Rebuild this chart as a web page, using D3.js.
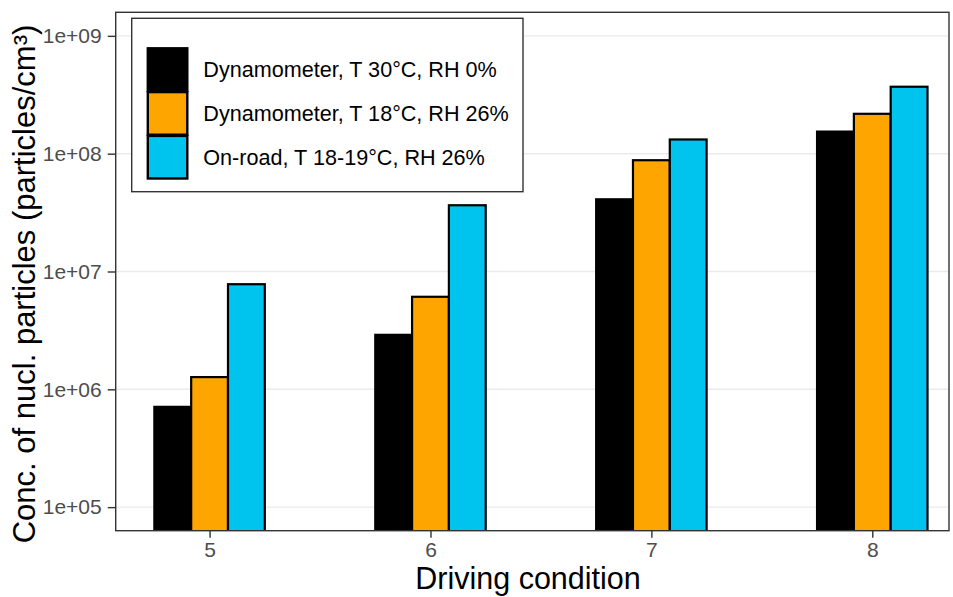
<!DOCTYPE html>
<html>
<head>
<meta charset="utf-8">
<script src="https://cdn.jsdelivr.net/npm/d3@7"></script>
<style>
  html, body { margin: 0; padding: 0; background: #fff; }
  svg { display: block; font-family: "Liberation Sans", Arial, sans-serif; }
</style>
</head>
<body>
<svg id="chart" width="953" height="597"></svg>
<script>
// Driving conditions on the x axis
const conditions = [5, 6, 7, 8];

// Measurement setups (series)
const seriesNames = [
  "Dynamometer, T 30°C, RH 0%",
  "Dynamometer, T 18°C, RH 26%",
  "On-road, T 18-19°C, RH 26%"
];
const seriesColors = ["#000000", "#FFA500", "#00C3EE"];

// Nucleation particle concentrations (particles/cm³), one value per condition
const dynoWarmDry = [7.1e5, 2.9e6, 4.1e7, 1.54e8];
const dynoCoolHumid = [1.27e6, 6.1e6, 8.8e7, 2.18e8];
const onRoad = [7.8e6, 3.65e7, 1.32e8, 3.7e8];
const seriesValues = [dynoWarmDry, dynoCoolHumid, onRoad];

// Axis ticks
const yTicks = [1e5, 1e6, 1e7, 1e8, 1e9];
const yTickLabels = ["1e+05", "1e+06", "1e+07", "1e+08", "1e+09"];

const svg = d3.select("#chart");

const panel = { left: 115.7, top: 12.3, right: 949, bottom: 530.7 };

// Continuous x scale (dodged bars of total width 0.5 around each condition)
const x = d3.scaleLinear()
  .domain([4.575, 8.425])
  .range([panel.left, panel.left + 3.85 * 220.9]);

const y = d3.scaleLog()
  .domain([Math.pow(10, 4.8), Math.pow(10, 9.2)])
  .range([panel.bottom, panel.top]);

const groupWidth = 0.5;
const barW = groupWidth / seriesNames.length;

// Clip to panel
svg.append("defs").append("clipPath").attr("id", "panelClip")
  .append("rect")
  .attr("x", panel.left).attr("y", panel.top)
  .attr("width", panel.right - panel.left).attr("height", panel.bottom - panel.top);

// Gridlines
const grid = svg.append("g");
grid.selectAll("line").data(yTicks).join("line")
  .attr("x1", panel.left).attr("x2", panel.right)
  .attr("y1", d => y(d)).attr("y2", d => y(d))
  .attr("stroke", "#EBEBEB").attr("stroke-width", 1.4);

// Bars
const bars = svg.append("g").attr("clip-path", "url(#panelClip)");
const barData = [];
seriesValues.forEach((vals, si) => {
  vals.forEach((v, ci) => {
    barData.push({ s: si, c: conditions[ci], v });
  });
});
bars.selectAll("rect").data(barData).join("rect")
  .attr("x", d => x(d.c - groupWidth / 2 + d.s * barW))
  .attr("width", d => x(d.c - groupWidth / 2 + (d.s + 1) * barW) - x(d.c - groupWidth / 2 + d.s * barW))
  .attr("y", d => y(d.v))
  .attr("height", d => panel.bottom + 5 - y(d.v))
  .attr("fill", d => seriesColors[d.s])
  .attr("stroke", "#000")
  .attr("stroke-width", 2.2);

// Panel border
svg.append("rect")
  .attr("x", panel.left).attr("y", panel.top)
  .attr("width", panel.right - panel.left).attr("height", panel.bottom - panel.top)
  .attr("fill", "none").attr("stroke", "#333333").attr("stroke-width", 1.4);

// Y axis
const yAxis = d3.axisLeft(y)
  .tickValues(yTicks)
  .tickFormat((d, i) => yTickLabels[i])
  .tickSize(8)
  .tickPadding(6);
const gy = svg.append("g").attr("transform", `translate(${panel.left},0)`).call(yAxis);
gy.select(".domain").remove();
gy.selectAll(".tick line").attr("stroke", "#333333").attr("stroke-width", 1.4);
gy.selectAll(".tick text").attr("fill", "#4D4D4D").style("font-size", "21px")
  .style("font-family", "'Liberation Sans', Arial, sans-serif");

// X axis
const xAxis = d3.axisBottom(x)
  .tickValues(conditions)
  .tickFormat(d3.format("d"))
  .tickSize(7)
  .tickPadding(4);
const gx = svg.append("g").attr("transform", `translate(0,${panel.bottom})`).call(xAxis);
gx.select(".domain").remove();
gx.selectAll(".tick line").attr("stroke", "#333333").attr("stroke-width", 1.4);
gx.selectAll(".tick text").attr("fill", "#4D4D4D").style("font-size", "21px")
  .style("font-family", "'Liberation Sans', Arial, sans-serif");

// Axis titles
svg.append("text")
  .attr("x", 528).attr("y", 578)
  .attr("text-anchor", "middle").attr("dominant-baseline", "central")
  .style("font-size", "30.5px").attr("fill", "#000")
  .text("Driving condition");

svg.append("text")
  .attr("transform", "translate(24,284) rotate(-90)")
  .attr("text-anchor", "middle").attr("dominant-baseline", "central")
  .style("font-size", "31px").attr("fill", "#000")
  .text("Conc. of nucl. particles (particles/cm³)");

// Legend
const legend = svg.append("g");
legend.append("rect")
  .attr("x", 131.7).attr("y", 18.3).attr("width", 391.3).attr("height", 173.4)
  .attr("fill", "#fff").attr("stroke", "#333333").attr("stroke-width", 1.4);

const keyX = 147.8, keyY = 48.3, keyW = 39.5, keyH = 42.6;
const items = legend.selectAll("g.item").data(seriesNames).join("g").attr("class", "item");
items.append("rect")
  .attr("x", keyX)
  .attr("y", (d, i) => keyY + i * (keyH + 1.2))
  .attr("width", keyW).attr("height", keyH)
  .attr("fill", (d, i) => seriesColors[i])
  .attr("stroke", "#000").attr("stroke-width", 2.4);
items.append("text")
  .attr("x", 203.3)
  .attr("y", (d, i) => keyY + keyH / 2 + i * (keyH + 1.2))
  .attr("dominant-baseline", "central")
  .style("font-size", "21.6px").attr("fill", "#000")
  .text(d => d);
</script>
</body>
</html>
